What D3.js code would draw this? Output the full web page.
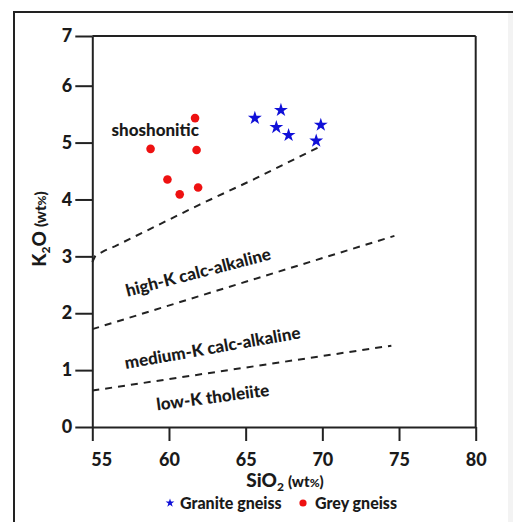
<!DOCTYPE html>
<html>
<head>
<meta charset="utf-8">
<script src="https://cdn.jsdelivr.net/npm/d3@7"></script>
<style>
  body { margin: 0; background: #fff; }
  text { font-family: Lato, "DejaVu Sans", sans-serif; font-weight: 900; fill: #1a1a1a; }
</style>
</head>
<body>
<script>
// SiO2 vs K2O classification plot
var w = 513, h = 522;

// tick labels
var xTicks = [55, 60, 65, 70, 75, 80];
var yTicks = [0, 1, 2, 3, 4, 5, 6, 7];

// samples (SiO2, K2O)
var graniteSiO2 = [65.6, 67.3, 67.0, 67.8, 69.9, 69.6];
var graniteK2O  = [5.43, 5.57, 5.27, 5.13, 5.31, 5.03];
var greySiO2 = [61.7, 58.8, 61.8, 59.9, 60.7, 61.9];
var greyK2O  = [5.43, 4.89, 4.87, 4.35, 4.09, 4.21];

// dashed boundary lines
var shoshoniteLineX = [55.0, 55.2, 55.8, 56.5, 62.0, 65.5, 70.0];
var shoshoniteLineY = [2.90, 3.01, 3.10, 3.18, 3.91, 4.35, 4.95];
var highKLineX = [55.0, 74.7];
var highKLineY = [1.72, 3.36];
var lowKLineX = [55.0, 74.5];
var lowKLineY = [0.64, 1.43];

// field names
var fieldNames = ["shoshonitic", "high-K calc-alkaline", "medium-K calc-alkaline", "low-K tholeiite"];
var fieldSiO2 = [59.1, 62.0, 62.9, 62.9];
var fieldK2O  = [5.11, 2.62, 1.29, 0.42];
var fieldAngle = [0, -14.5, -10, -7.5];

var legendNames = ["Granite gneiss", "Grey gneiss"];

var svg = d3.select("body").append("svg")
    .attr("width", w)
    .attr("height", h);

// outer frame (cut by the window on the right and bottom)
svg.append("rect").attr("x", 508).attr("y", 13).attr("width", 6).attr("height", h).attr("fill", "#f3f3f3");
svg.append("path")
    .attr("d", "M14," + h + "V12H" + w)
    .attr("fill", "none").attr("stroke", "#222").attr("stroke-width", 2);

var x = d3.scaleLinear().domain([55, 80]).range([92.3, 475.7]);
// the printed axis is slightly uneven at the top
var y = d3.scaleLinear().domain([0, 6, 7]).range([427, 85.7, 36]);

// box top and right
svg.append("line").attr("x1", x(55)).attr("x2", x(80)).attr("y1", y(7)).attr("y2", y(7))
    .attr("stroke", "#222").attr("stroke-width", 2);
svg.append("line").attr("x1", x(80)).attr("x2", x(80)).attr("y1", y(7)).attr("y2", y(0))
    .attr("stroke", "#222").attr("stroke-width", 2);

var xAxis = svg.append("g")
    .attr("transform", "translate(0," + y(0) + ")")
    .call(d3.axisBottom(x).tickValues(xTicks).tickSize(14).tickSizeOuter(0).tickPadding(6));
var yAxis = svg.append("g")
    .attr("transform", "translate(" + x(55) + ",0)")
    .call(d3.axisLeft(y).tickValues(yTicks).tickFormat(d3.format("d")).tickSize(17).tickSizeOuter(0).tickPadding(3));

[xAxis, yAxis].forEach(function(g) {
    g.select(".domain").attr("stroke", "#222").attr("stroke-width", 2);
    g.selectAll(".tick line").attr("stroke", "#222").attr("stroke-width", 2);
    g.selectAll(".tick text").attr("font-size", 18).attr("font-weight", 900)
        .attr("font-family", "Lato, sans-serif").attr("fill", "#1a1a1a");
});
xAxis.selectAll(".tick text").attr("dy", "1.05em")
    .attr("dx", function(d) { return d === 55 ? 9 : 0; });

// dashed boundaries
var line = d3.line().x(function(d) { return x(d[0]); }).y(function(d) { return y(d[1]); });
[[shoshoniteLineX, shoshoniteLineY], [highKLineX, highKLineY], [lowKLineX, lowKLineY]].forEach(function(l) {
    svg.append("path")
        .datum(d3.zip(l[0], l[1]))
        .attr("d", line)
        .attr("fill", "none")
        .attr("stroke", "#222")
        .attr("stroke-width", 2)
        .attr("stroke-dasharray", "7,6");
});

// field labels
svg.selectAll(".field")
    .data(fieldNames)
    .enter()
    .append("text")
    .attr("class", "field")
    .attr("text-anchor", "middle")
    .attr("font-size", 17)
    .attr("transform", function(d, i) {
        return "translate(" + x(fieldSiO2[i]) + "," + y(fieldK2O[i]) + ") rotate(" + fieldAngle[i] + ")";
    })
    .text(function(d) { return d; });

// grey gneiss points
svg.selectAll(".grey")
    .data(d3.zip(greySiO2, greyK2O))
    .enter()
    .append("circle")
    .attr("class", "grey")
    .attr("cx", function(d) { return x(d[0]); })
    .attr("cy", function(d) { return y(d[1]); })
    .attr("r", 4.3)
    .attr("fill", "#ee1111");

// granite gneiss points
var star = d3.symbol().type(d3.symbolStar).size(60);
svg.selectAll(".granite")
    .data(d3.zip(graniteSiO2, graniteK2O))
    .enter()
    .append("path")
    .attr("class", "granite")
    .attr("d", star)
    .attr("transform", function(d) { return "translate(" + x(d[0]) + "," + y(d[1]) + ")"; })
    .attr("fill", "#1010d8");

// axis titles
var xt = svg.append("text").attr("x", 285).attr("y", 487).attr("text-anchor", "middle").attr("font-size", 19);
xt.append("tspan").text("SiO");
xt.append("tspan").attr("font-size", 12).attr("dy", 4).text("2");
xt.append("tspan").attr("font-size", 15).attr("dy", -4).attr("dx", 4).text("(wt");
xt.append("tspan").attr("font-size", 12).text("%");
xt.append("tspan").attr("font-size", 15).text(")");

var yt = svg.append("text").attr("transform", "translate(46,229) rotate(-90)").attr("text-anchor", "middle").attr("font-size", 19);
yt.append("tspan").text("K");
yt.append("tspan").attr("font-size", 12).attr("dy", 4).text("2");
yt.append("tspan").attr("dy", -4).text("O");
yt.append("tspan").attr("font-size", 15).attr("dx", 4).text("(wt");
yt.append("tspan").attr("font-size", 12).text("%");
yt.append("tspan").attr("font-size", 15).text(")");

// legend
var legend = svg.append("g").attr("transform", "translate(0,504)");
legend.append("path").attr("d", d3.symbol().type(d3.symbolStar).size(24)).attr("transform", "translate(170,-1)").attr("fill", "#1010d8");
legend.append("text").attr("x", 180).attr("y", 5).attr("font-size", 16).text(legendNames[0]);
legend.append("circle").attr("cx", 303).attr("cy", -1).attr("r", 3.6).attr("fill", "#ee1111");
legend.append("text").attr("x", 315).attr("y", 5).attr("font-size", 16).text(legendNames[1]);
</script>
</body>
</html>
